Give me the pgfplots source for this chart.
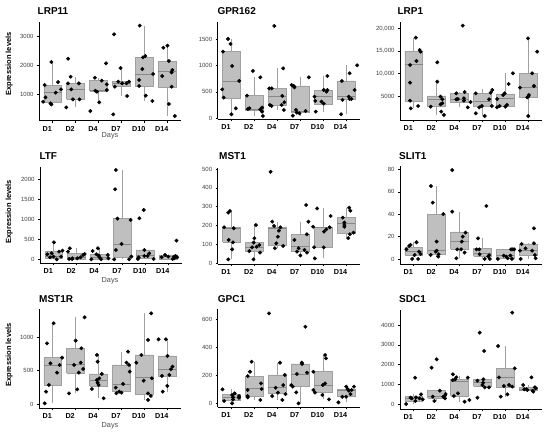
\documentclass[border=0pt]{standalone}
\usepackage{pgfplots}
\pgfplotsset{compat=1.18}
\usepackage{fontspec}
\setmainfont{Liberation Sans}
\definecolor{boxgray}{RGB}{191,191,191}
\definecolor{boxedge}{RGB}{160,160,160}
\definecolor{medgray}{RGB}{135,135,135}
\pgfplotsset{
  panel/.style={
    scale only axis, width=142pt, anchor=south west,
    xmin=0.4, xmax=6.6, scaled ticks=false,
    axis lines*=left, axis line style={-, black, line width=0.6pt},
    xtick={1,2,3,4,5,6}, xticklabels={D1,D2,D4,D7,D10,D14},
    tick style={black, line width=0.5pt}, tick align=outside, major tick length=2pt,
    xticklabel style={font=\bfseries\fontsize{7.2}{8}\selectfont, xshift=-5.5pt},
    yticklabel style={font=\fontsize{6}{7}\selectfont, text=black!75},
    /pgf/number format/1000 sep={}, /pgf/number format/assume math mode=true,
  },
  wh/.style={draw=boxedge, line width=0.6pt, mark=none},
  bxf/.style={draw=boxedge, fill=boxgray, line width=0.55pt, mark=none},
  md/.style={draw=medgray, line width=0.6pt, mark=none},
  pts/.style={only marks, mark=*, mark size=1.75pt, black, mark options={draw=black, fill=black}},
}
% left, right, position, lower whisker, lower quartile, median, upper quartile, upper whisker
\newcommand{\bx}[8]{%
\addplot[wh] coordinates {(#3,#4)(#3,#5)};
\addplot[wh] coordinates {(#3,#7)(#3,#8)};
\addplot[bxf] coordinates {(#1,#5)(#2,#5)(#2,#7)(#1,#7)(#1,#5)};
\addplot[md] coordinates {(#1,#6)(#2,#6)};}
\newcommand{\bxA}[5]{\bx{0.61}{1.39}{1}{#1}{#2}{#3}{#4}{#5}}
\newcommand{\bxB}[5]{\bx{1.61}{2.39}{2}{#1}{#2}{#3}{#4}{#5}}
\newcommand{\bxC}[5]{\bx{2.61}{3.39}{3}{#1}{#2}{#3}{#4}{#5}}
\newcommand{\bxD}[5]{\bx{3.61}{4.39}{4}{#1}{#2}{#3}{#4}{#5}}
\newcommand{\bxE}[5]{\bx{4.61}{5.39}{5}{#1}{#2}{#3}{#4}{#5}}
\newcommand{\bxF}[5]{\bx{5.61}{6.39}{6}{#1}{#2}{#3}{#4}{#5}}
\begin{document}
\begin{tikzpicture}
\path[use as bounding box] (0,0) rectangle (550pt,440pt);
\fill[white] (0,0) rectangle (550pt,440pt);
% ---------- LRP11
\begin{axis}[panel, at={(39pt,319.3pt)}, height=99pt, ymin=114, ymax=3488, ytick={1000,2000,3000}]
\bxA{670}{740}{1090}{1330}{2114}
\bxB{568}{841}{1180}{1386}{1614}
\bxC{739}{1110}{1140}{1480}{1580}
\bxD{955}{1300}{1386}{1443}{1909}
\bxE{784}{1273}{1693}{2273}{3352}
\bxF{273}{1239}{1784}{2148}{2670}
\addplot[pts] coordinates {
(0.58,761)(0.68,909)(0.65,1330)(0.94,2114)(0.90,705)(0.94,670)(1.13,1068)(1.23,1432)(1.36,1182)
(1.67,2227)(1.59,568)(1.78,1614)(1.88,841)(1.81,1182)(2.17,841)(2.14,1386)(1.67,1386)
(2.64,443)(2.84,1580)(2.86,1136)(2.93,1102)(3.03,739)(3.14,1477)(3.33,2068)(3.36,1352)(3.36,1159)
(3.64,330)(3.68,3057)(3.71,1273)(3.86,1443)(3.96,1909)(4.03,1386)(4.22,1386)(4.25,955)(4.33,1443)
(4.80,3352)(4.94,2273)(4.91,1875)(5.04,2318)(4.77,1500)(4.77,1295)(5.06,966)(5.38,1705)(5.35,784)
(5.83,2602)(6.01,2670)(6.07,2148)(5.78,1636)(6.19,1761)(6.22,1841)(6.19,1273)(6.07,682)(6.33,273)
};
\end{axis}
% ---------- GPR162
\begin{axis}[panel, at={(217.7pt,320.7pt)}, height=97.6pt, ymin=-19, ymax=1827, ytick={0,500,1000,1500}]
\bxA{76}{378}{706}{1260}{1500}
\bxB{44}{158}{175}{429}{775}
\bxC{158}{252}{422}{567}{945}
\bxD{50}{107}{126}{611}{775}
\bxE{126}{271}{410}{523}{800}
\bxF{76}{366}{410}{706}{1002}
\addplot[pts] coordinates {
(0.85,1500)(0.96,1406)(0.63,1260)(1.03,990)(1.34,706)(0.60,548)(0.66,391)(1.19,189)(1.00,76)
(1.94,895)(2.26,775)(1.68,429)(1.72,176)(1.78,189)(2.26,170)(2.34,202)(2.34,126)(2.37,44)
(2.87,1746)(3.26,945)(2.65,567)(2.76,567)(2.68,252)(2.75,233)(3.19,252)(3.31,303)(3.29,158)(3.22,422)
(3.63,630)(3.72,611)(3.75,586)(3.82,158)(3.85,107)(3.68,50)(3.97,95)(4.24,139)(4.38,775)
(4.63,410)(4.66,328)(4.68,126)(4.93,315)(5.03,536)(5.03,277)(5.15,504)(5.19,536)(5.19,800)
(5.82,706)(5.79,76)(5.85,347)(6.12,410)(6.16,851)(6.16,366)(6.24,366)(6.38,536)(6.49,1002)
};
\end{axis}
% ---------- LRP1
\begin{axis}[panel, at={(400pt,320pt)}, height=98.3pt, ymin=-350, ymax=21560, ytick={5000,10000,15000,20000}, yticklabels={5000,{10,000},{15,000},{20,000}}]
\bxA{2250}{3890}{12060}{14880}{18000}
\bxB{770}{2620}{4330}{5000}{8200}
\bxC{2470}{3510}{4330}{5590}{6000}
\bxD{540}{2620}{3740}{5590}{6490}
\bxE{2470}{2770}{4480}{5450}{10050}
\bxF{540}{4700}{6860}{10050}{17850}
\addplot[pts] coordinates {
(1.09,18000)(1.26,15250)(1.30,14880)(1.12,12800)(0.84,11900)(0.84,7970)(0.84,3960)(0.87,2250)(1.19,2770)
(2.03,12500)(2.03,8200)(1.74,2620)(2.17,4850)(2.25,4260)(2.25,3370)(2.17,3140)(2.32,770)(2.20,1510)
(3.14,20680)(2.86,5590)(2.93,4330)(3.19,4480)(3.22,5890)(3.19,3960)(3.36,2470)(3.48,3660)(2.86,4260)
(3.71,5590)(3.71,1140)(3.86,2470)(3.97,2770)(4.29,4260)(4.36,5740)(4.43,6340)(4.41,2770)(4.10,540)
(4.64,4330)(4.64,2470)(4.75,2770)(4.90,5220)(4.97,5590)(5.00,2620)(5.07,3000)(5.14,7670)(5.33,10050)
(5.64,6860)(5.99,17850)(6.17,10050)(6.25,7230)(6.03,5220)(5.96,4700)(6.00,540)(6.39,14880)(6.00,4850)
};
\end{axis}
% ---------- LTF
\begin{axis}[panel, at={(40pt,176.7pt)}, height=96.6pt, ymin=-100, ymax=2315, ytick={0,500,1000,1500,2000}]
\bxA{0}{25}{67}{208}{425}
\bxB{8}{8}{42}{150}{275}
\bxC{0}{8}{50}{125}{275}
\bxD{0}{50}{383}{1017}{2233}
\bxE{8}{25}{108}{233}{233}
\bxF{8}{8}{67}{108}{108}
\addplot[pts] coordinates {
(1.01,425)(0.72,125)(0.99,67)(0.84,50)(1.13,0)(1.32,67)(1.23,192)(1.38,217)(0.91,150)
(1.62,192)(1.70,275)(1.67,8)(1.81,25)(2.17,50)(2.28,108)(2.35,133)(2.03,25)(1.80,8)
(2.64,0)(2.70,208)(2.86,125)(2.93,275)(3.00,50)(3.07,0)(3.36,108)(3.39,25)(2.96,92)
(3.71,2233)(3.68,1750)(3.78,1017)(3.71,233)(3.64,0)(3.96,383)(4.29,0)(4.36,983)(4.39,67)
(4.74,1025)(4.93,1233)(4.67,8)(4.96,83)(4.96,233)(5.10,83)(5.17,150)(5.36,8)(4.71,50)
(5.71,50)(5.86,108)(6.00,67)(6.19,8)(6.26,67)(6.32,83)(6.36,467)(6.26,25)(6.39,50)
};
\end{axis}
% ---------- MST1
\begin{axis}[panel, at={(217.7pt,176.1pt)}, height=96.4pt, ymin=-3, ymax=508, ytick={0,100,200,300,400,500}]
\bxA{21}{111}{186}{191}{279}
\bxB{21}{62}{85}{111}{203}
\bxC{80}{97}{186}{191}{221}
\bxD{42}{62}{88}{155}{221}
\bxE{26}{85}{189}{191}{291}
\bxF{134}{159}{212}{242}{295}
\addplot[pts] coordinates {
(0.68,191)(0.86,269)(0.93,277)(1.10,186)(0.88,124)(1.07,111)(1.03,74)(0.86,21)
(2.07,203)(2.00,133)(1.97,110)(1.90,85)(2.10,88)(2.22,97)(2.25,57)(1.78,65)(1.96,21)
(2.71,485)(2.78,221)(2.86,198)(3.14,191)(3.03,141)(3.07,173)(2.96,106)(2.90,80)(3.26,92)
(3.75,124)(3.86,62)(3.93,80)(4.01,42)(4.19,71)(4.29,154)(4.26,309)(4.36,221)(4.30,57)
(4.57,194)(4.61,85)(4.64,26)(4.74,291)(5.03,85)(5.04,168)(5.14,180)(5.29,191)(5.33,251)
(5.86,242)(5.93,216)(5.93,203)(5.93,194)(6.10,134)(6.14,295)(6.19,279)(6.17,154)(6.33,163)
};
\end{axis}
% ---------- SLIT1
\begin{axis}[panel, at={(400pt,176pt)}, height=98pt, ymin=-4.5, ymax=83, ytick={0,20,40,60,80}]
\bxA{0}{3.6}{6.5}{10.4}{14.9}
\bxB{2.1}{4.5}{7.4}{40.1}{65.1}
\bxC{0.6}{8.6}{15.5}{24.1}{42.2}
\bxD{0}{2.7}{5.1}{9.5}{18.4}
\bxE{0}{0.6}{3.6}{8.6}{8.6}
\bxF{0}{3.6}{8}{13.4}{14}
\addplot[pts] coordinates {
(0.68,8.6)(0.80,11.6)(0.86,12.5)(1.12,14.9)(0.93,0)(1.04,3.6)(1.23,6.5)(1.30,4.5)(1.19,0)
(1.75,65.1)(1.83,50.3)(2.29,40.1)(2.00,15.5)(2.00,7.4)(1.96,6.5)(1.74,3.6)(2.07,2.1)(2.09,4.2)
(2.68,79.4)(2.68,42.2)(2.86,0.6)(2.90,8.6)(3.07,8.6)(3.10,15.5)(3.14,19.9)(3.26,23.5)(3.22,5.7)
(3.81,18.4)(3.86,8.6)(3.88,4.2)(4.10,0)(4.17,47.3)(4.29,3.3)(4.32,0)(3.74,8.6)(4.25,2.1)
(4.67,0)(4.93,3.0)(5.04,2.1)(5.10,0.6)(5.25,8.6)(5.29,0)(5.33,8.6)(5.39,8.6)(5.22,3.0)
(5.64,7.4)(5.67,0)(5.71,13.4)(5.88,9.5)(6.17,7.4)(6.25,14.0)(6.29,3.6)(6.32,0.6)(6.25,27.4)
};
\end{axis}
% ---------- MST1R
\begin{axis}[panel, at={(39pt,31.7pt)}, height=99pt, ymin=-65, ymax=1420, ytick={0,500,1000}]
\bxA{10}{285}{585}{695}{1210}
\bxB{160}{460}{600}{835}{1300}
\bxC{85}{270}{350}{450}{735}
\bxD{160}{185}{300}{585}{785}
\bxE{60}{150}{395}{735}{1360}
\bxF{185}{420}{520}{720}{970}
\addplot[pts] coordinates {
(0.65,10)(0.71,185)(0.83,285)(0.75,910)(0.90,610)(1.04,1210)(1.19,470)(1.30,585)(1.41,695)
(1.71,160)(1.93,585)(2.00,950)(2.07,220)(2.14,470)(2.25,835)(2.22,620)(2.33,525)(2.39,1300)
(2.71,225)(2.93,735)(2.96,635)(2.93,360)(2.96,320)(3.00,285)(3.03,385)(3.14,450)(3.22,85)
(3.75,245)(3.78,160)(3.90,185)(4.00,170)(4.07,300)(4.22,620)(4.29,785)(4.33,585)(4.36,485)
(4.65,620)(4.87,735)(4.97,350)(5.16,960)(5.16,160)(5.16,60)(5.28,120)(5.33,385)(5.30,1360)
(5.62,970)(5.80,185)(5.77,420)(5.94,970)(6.01,720)(6.00,270)(6.09,435)(6.16,520)(6.23,560)
};
\end{axis}
% ---------- GPC1
\begin{axis}[panel, at={(217.7pt,32.7pt)}, height=98pt, ymin=-28, ymax=669, ytick={0,200,400,600}]
\bxA{0}{19}{43}{64}{100}
\bxB{24}{52}{104}{194}{296}
\bxC{24}{71}{111}{202}{289}
\bxD{0}{119}{209}{280}{289}
\bxE{28}{76}{130}{225}{344}
\bxF{7}{47}{95}{102}{119}
\addplot[pts] coordinates {
(0.61,100)(0.68,17)(1.03,59)(1.07,43)(1.07,28)(1.03,0)(1.14,71)(1.33,52)(1.33,40)
(1.71,194)(1.81,225)(1.88,296)(1.71,95)(1.71,52)(1.71,43)(2.26,24)(2.29,142)(2.32,102)
(2.64,640)(2.78,52)(2.93,111)(3.03,76)(3.12,289)(3.22,24)(3.26,130)(3.33,202)(3.36,66)
(3.61,130)(3.68,119)(3.83,78)(3.86,209)(3.93,0)(4.07,289)(4.09,280)(4.23,545)(4.30,218)
(4.58,225)(4.58,95)(4.65,76)(4.97,59)(4.99,130)(5.09,142)(5.09,344)(5.13,320)(5.26,28)
(5.67,7)(5.84,47)(6.01,47)(6.01,119)(6.07,102)(6.13,90)(6.20,66)(6.25,95)(6.35,119)
};
\end{axis}
% ---------- SDC1
\begin{axis}[panel, at={(400pt,30.7pt)}, height=99.3pt, ymin=-250, ymax=4757, ytick={0,1000,2000,3000,4000}]
\bxA{17}{168}{303}{420}{504}
\bxB{168}{303}{420}{689}{720}
\bxC{134}{420}{1143}{1260}{1445}
\bxD{857}{900}{1092}{1260}{1300}
\bxE{387}{857}{1345}{1815}{2941}
\bxF{689}{700}{773}{857}{975}
\addplot[pts] coordinates {
(0.67,17)(0.86,336)(0.91,303)(1.06,1345)(1.07,168)(1.10,353)(1.25,303)(1.32,504)(1.39,252)
(1.78,1849)(2.00,2269)(1.83,387)(1.90,168)(2.14,689)(2.36,437)(2.36,303)(2.39,521)(2.29,387)
(2.71,1513)(2.71,1227)(2.81,1260)(2.75,420)(2.93,555)(3.22,134)(3.36,1345)(3.43,218)(2.86,1361)
(3.88,3613)(4.07,2689)(3.78,336)(3.78,1193)(4.00,975)(4.04,1260)(4.10,857)(4.29,857)(4.03,1092)
(4.68,2941)(4.72,1361)(4.80,387)(4.94,924)(5.09,504)(5.16,975)(5.30,891)(5.30,4622)(5.41,1815)
(5.78,975)(5.83,756)(5.93,756)(5.96,723)(6.14,1361)(6.19,689)(6.22,639)(6.33,807)(6.29,857)
};
\end{axis}
% ---------- titles and labels
\tikzset{ttl/.style={anchor=west, inner sep=0pt, font=\bfseries\fontsize{10}{12}\selectfont}}
\node[ttl] at (37.5pt,429pt) {LRP11};
\node[ttl] at (217.3pt,429pt) {GPR162};
\node[ttl] at (397.3pt,429pt) {LRP1};
\node[ttl] at (39.3pt,284.3pt) {LTF};
\node[ttl] at (219pt,284.3pt) {MST1};
\node[ttl] at (399pt,284.3pt) {SLIT1};
\node[ttl] at (39pt,141.3pt) {MST1R};
\node[ttl] at (217.7pt,141.3pt) {GPC1};
\node[ttl] at (399pt,141.3pt) {SDC1};
\tikzset{yl/.style={rotate=90, inner sep=0pt, font=\bfseries\fontsize{7.5}{8}\selectfont}}
\node[yl] at (9.2pt,376pt) {Expression levels};
\node[yl] at (9.2pt,228.3pt) {Expression levels};
\node[yl] at (9.2pt,85pt) {Expression levels};
\tikzset{dl/.style={inner sep=0pt, text=black!70, font=\fontsize{7.3}{8}\selectfont}}
\node[dl] at (110pt,303.8pt) {Days};
\node[dl] at (110pt,158.8pt) {Days};
\node[dl] at (110pt,14pt) {Days};
\end{tikzpicture}
\end{document}
